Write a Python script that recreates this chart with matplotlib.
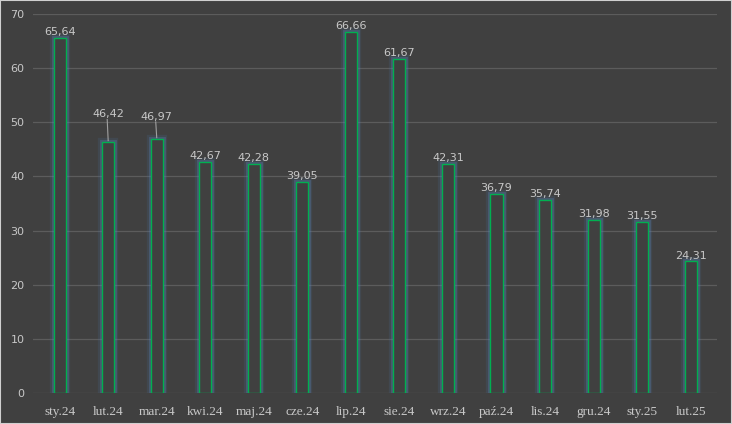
import matplotlib
matplotlib.use("Agg")
import matplotlib.pyplot as plt
import matplotlib.patheffects as pe
from matplotlib.patches import Rectangle

months = ["sty.24", "lut.24", "mar.24", "kwi.24", "maj.24", "cze.24", "lip.24",
          "sie.24", "wrz.24", "paź.24", "lis.24", "gru.24", "sty.25", "lut.25"]
values = [65.64, 46.42, 46.97, 42.67, 42.28, 39.05, 66.66,
          61.67, 42.31, 36.79, 35.74, 31.98, 31.55, 24.31]
# labels that were pulled up with a leader line in the original
raised = {1: 4.0, 2: 3.0}

bg = "#404040"
txt = "#c8c8c8"

fig = plt.figure(figsize=(7.32, 4.24), dpi=100, facecolor=bg)
ax = fig.add_axes([0.045, 0.073, 0.935, 0.894])
ax.set_facecolor(bg)

x = range(len(months))
bars = ax.bar(x, values, width=0.25, color=bg, edgecolor="#00b050", linewidth=1.0, zorder=3)
for b in bars:
    b.set_path_effects([pe.Stroke(linewidth=6, foreground="#4a6f9c", alpha=0.18),
                        pe.Stroke(linewidth=3.5, foreground="#5b86c0", alpha=0.3),
                        pe.Normal()])

for i, v in enumerate(values):
    lab = f"{v:.2f}".replace(".", ",")
    off = raised.get(i, 0)
    ax.text(i, v + 0.15 + off, lab, ha="center", va="bottom", color=txt,
            fontsize=8, family="DejaVu Sans", zorder=4)
    if off:
        ax.plot([i - 0.02, i], [v + off + 0.1, v + 0.2], color="#a0a0a0", lw=0.8, zorder=4)

ax.set_ylim(0, 70)
ax.set_xlim(-0.55, len(months) - 0.45)
ax.set_yticks(range(0, 71, 10))
ax.yaxis.grid(True, color="#5c5c5c", lw=0.9, zorder=0)
ax.set_axisbelow(True)
for s in ax.spines.values():
    s.set_visible(False)
ax.tick_params(length=0, colors=txt)
ax.tick_params(axis="y", labelsize=8, pad=6)
ax.set_xticks(list(x))
ax.set_xticklabels(months, fontsize=9.5, family="Liberation Serif", color=txt)
ax.tick_params(axis="x", pad=9)

fig.patches.append(Rectangle((0, 0), 1, 1, transform=fig.transFigure, fill=False,
                             edgecolor="#d0d0d0", lw=1.5))

fig.savefig("out.png", dpi=100, facecolor=bg)
